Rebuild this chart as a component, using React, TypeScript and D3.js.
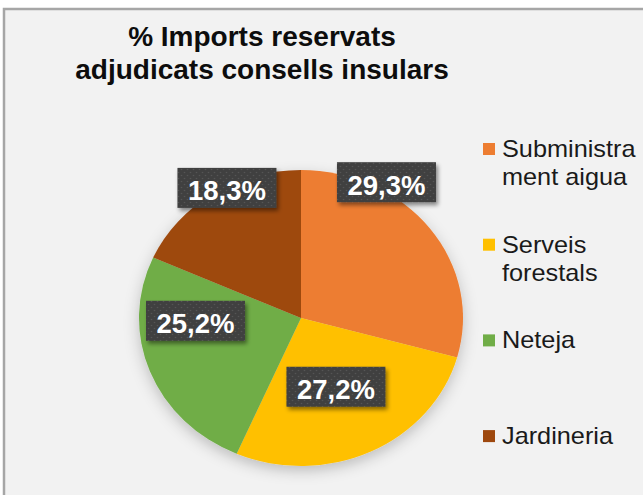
import React from "react";
import * as d3 from "d3";

const categories = ["Subministrament aigua", "Serveis forestals", "Neteja", "Jardineria"];
const legendLines = [["Subministra", "ment aigua"], ["Serveis", "forestals"], ["Neteja"], ["Jardineria"]];
const values = [29.3, 27.2, 25.2, 18.3];
const valueLabels = ["29,3%", "27,2%", "25,2%", "18,3%"];
const colors = ["#ED7D31", "#FFC000", "#70AD47", "#9E480E"];
const titleLines = ["% Imports reservats", "adjudicats consells insulars"];

export default function App() {
  const W = 643, H = 495;
  const cx = 301, cy = 318, ry = 148, rx = 162;
  const sx = rx / ry;
  const pie = d3.pie<number>().sort(null).value((d) => d);
  const arcs = pie(values);
  const arc = d3.arc<d3.PieArcDatum<number>>().innerRadius(0).outerRadius(ry);
  // Excel "best fit" label placement relative to slice centroid
  const labelShift = [[21, -91], [0, 2], [-30, -24], [-30, -68]];
  const font = "'Liberation Sans', Arial, sans-serif";
  const boxW = 99, boxH = 40;

  return (
    <svg width={W} height={H} style={{ position: "absolute", left: 0, top: 0 }} fontFamily={font}>
      <defs>
        <filter id="pieShadow" x="-20%" y="-20%" width="140%" height="150%">
          <feDropShadow dx="0" dy="5" stdDeviation="7" floodColor="#000" floodOpacity="0.22" />
        </filter>
        <filter id="boxShadow" x="-20%" y="-20%" width="150%" height="160%">
          <feDropShadow dx="2" dy="3" stdDeviation="2" floodColor="#000" floodOpacity="0.45" />
        </filter>
        <pattern id="dots" width="6" height="6" patternUnits="userSpaceOnUse">
          <rect width="6" height="6" fill="#3f3f3f" />
          <circle cx="1.5" cy="1.5" r="0.8" fill="#555" />
          <circle cx="4.5" cy="4.5" r="0.8" fill="#555" />
        </pattern>
      </defs>
      <rect x={0} y={0} width={W} height={H} fill="#ffffff" />
      <rect x={4} y={9} width={W + 20} height={H + 20} fill="#f2f2f2" stroke="#a6a6a6" strokeWidth={2.5} />

      {titleLines.map((t, i) => (
        <text key={i} x={262} y={46 + i * 33} textAnchor="middle" fontSize={28} fontWeight="bold" fill="#0d0d0d">
          {t}
        </text>
      ))}

      <g transform={`translate(${cx},${cy}) scale(${sx},1)`} filter="url(#pieShadow)">
        {arcs.map((a, i) => (
          <path key={i} d={arc(a) || ""} fill={colors[i]} />
        ))}
      </g>

      {arcs.map((a, i) => {
        const mid = (a.startAngle + a.endAngle) / 2;
        const x = cx + rx * 0.5 * Math.sin(mid) + labelShift[i][0];
        const y = cy - ry * 0.5 * Math.cos(mid) + labelShift[i][1];
        return (
          <g key={i}>
            <rect x={x - boxW / 2} y={y - boxH / 2} width={boxW} height={boxH} fill="url(#dots)" filter="url(#boxShadow)" />
            <text x={x} y={y + 12.5} textAnchor="middle" fontSize={27.5} fontWeight="bold" fill="#ffffff">
              {valueLabels[i]}
            </text>
          </g>
        );
      })}

      {categories.map((c, i) => {
        const top = 143 + i * 95.7;
        return (
          <g key={c}>
            <rect x={483} y={top} width={12} height={12} fill={colors[i]} />
            {legendLines[i].map((ln, j) => (
              <text key={j} transform={`translate(502,${top + 14 + j * 28}) scale(1.1,1)`} fontSize={23} fill="#1a1a1a">
                {ln}
              </text>
            ))}
          </g>
        );
      })}
    </svg>
  );
}
